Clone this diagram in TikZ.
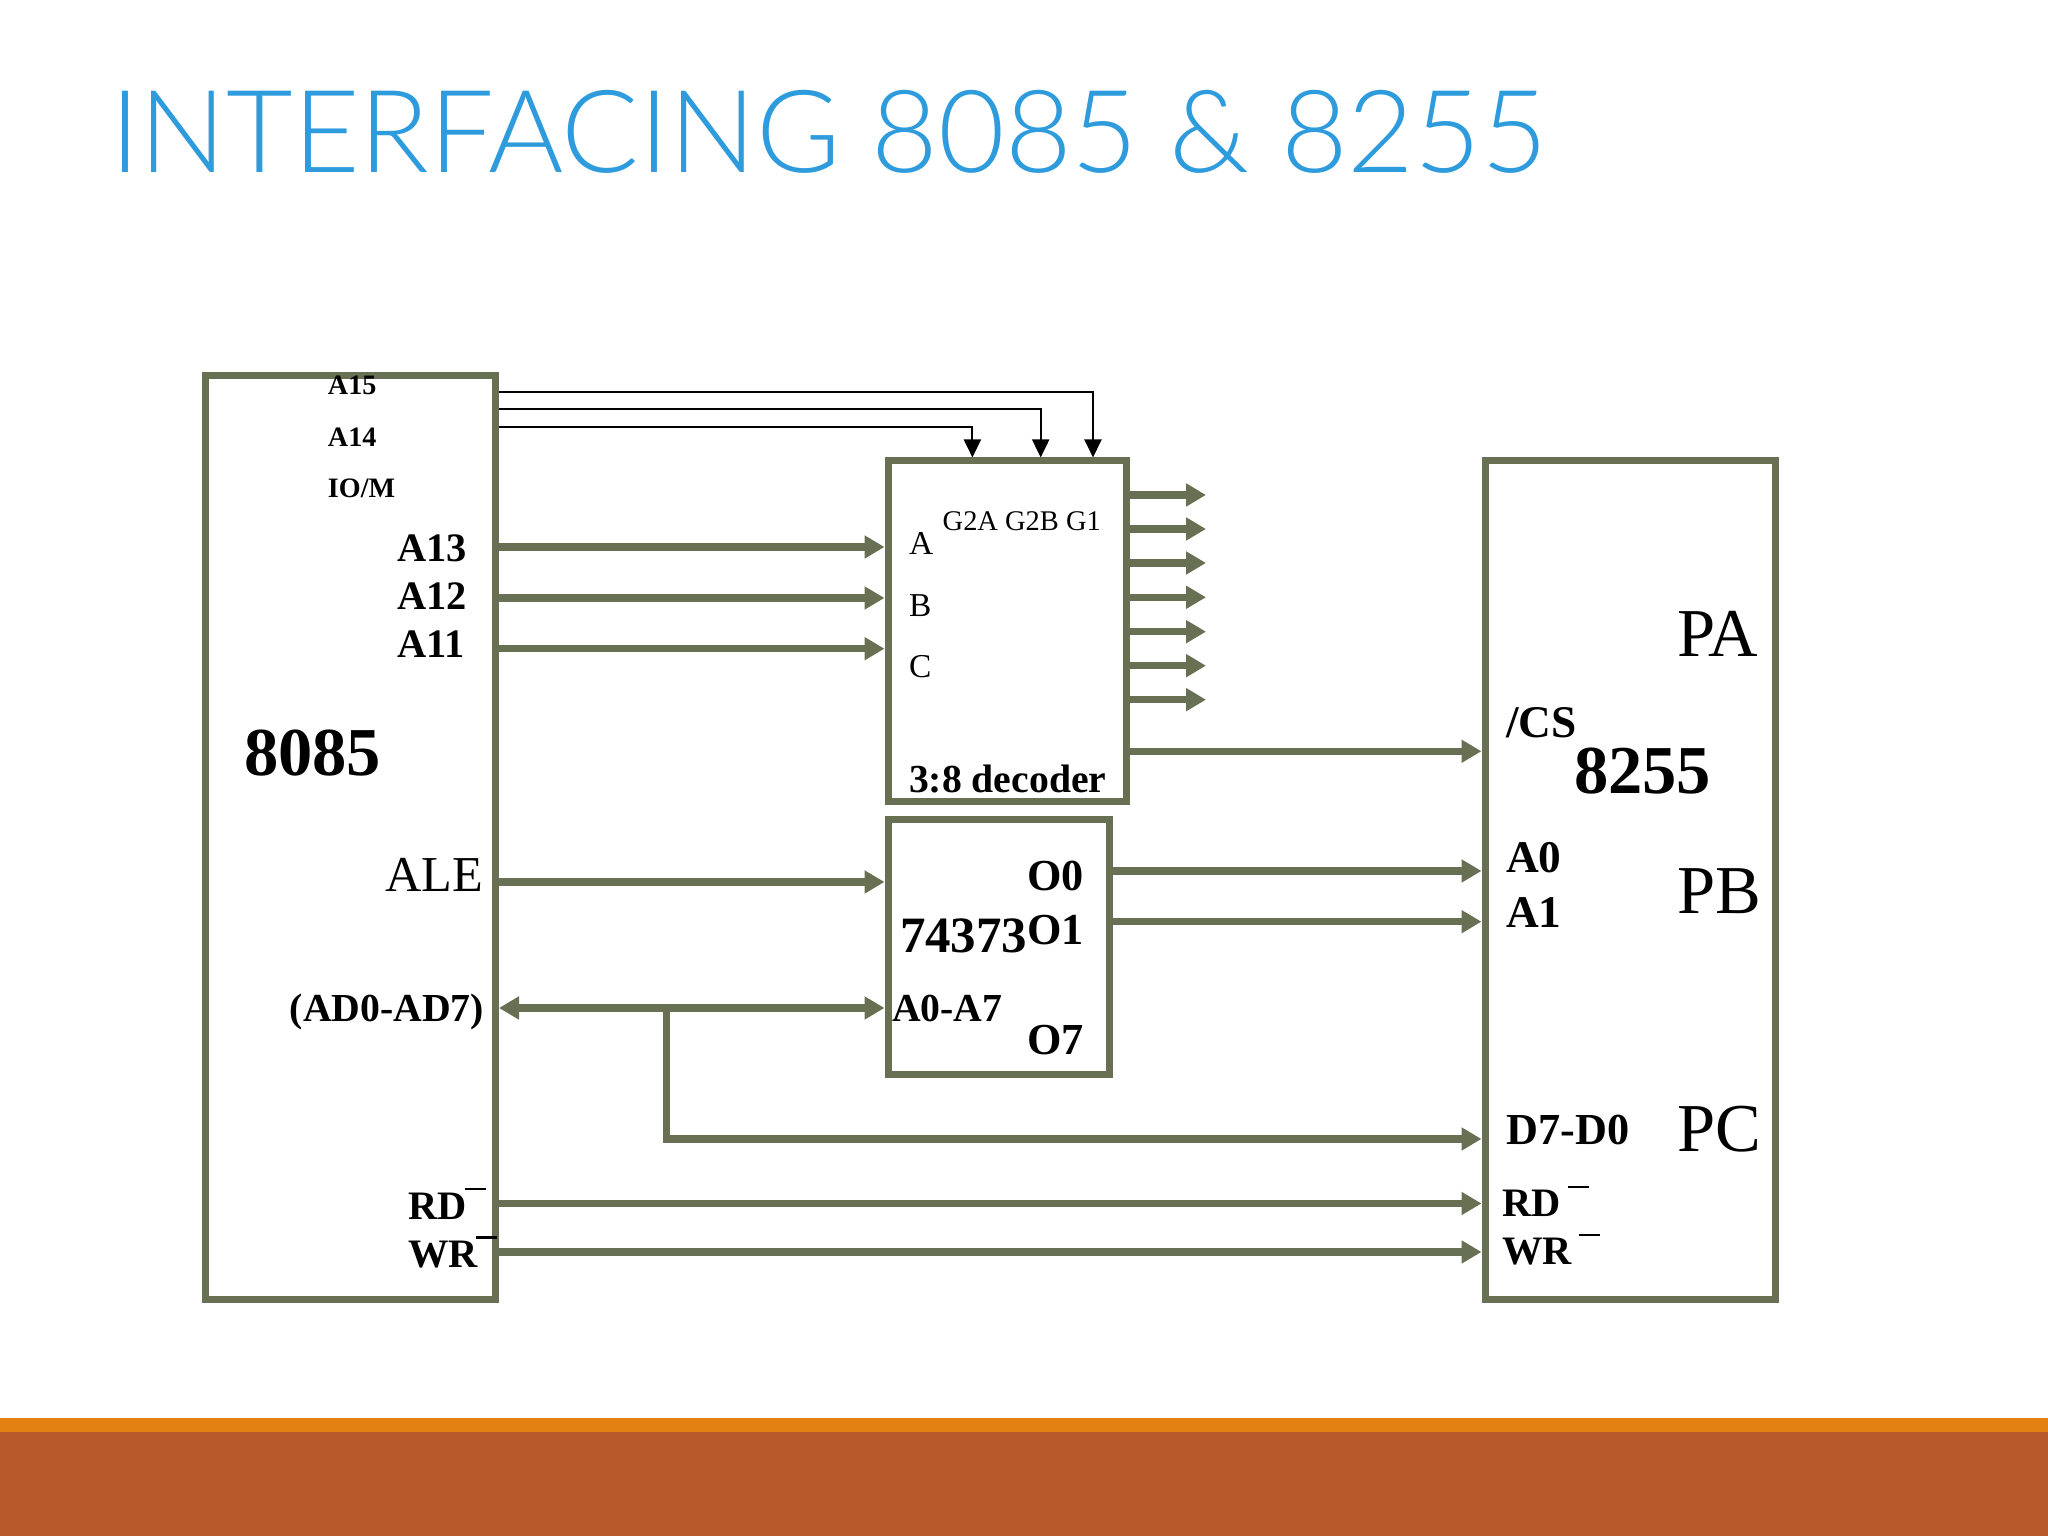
\documentclass[tikz,border=0pt]{standalone}
\usepackage{fontspec}
\setmainfont{Liberation Serif}
\newfontfamily\titlefont[UprightFont={* Light}]{Lato}
\usetikzlibrary{arrows.meta}
\definecolor{ChipGreen}{RGB}{103,112,82}
\definecolor{TitleBlue}{RGB}{46,155,221}
\definecolor{BarOrange}{RGB}{227,130,18}
\definecolor{BarBrown}{RGB}{184,89,43}

\begin{document}
\begin{tikzpicture}[
	chip/.style={rectangle, draw=ChipGreen, line width=0.07cm, inner sep=0pt},
	bus/.style={-{Triangle[length=0.2cm, width=0.22cm]}, line width=0.075cm, ChipGreen},
	dbus/.style={{Triangle[length=0.2cm, width=0.22cm]}-{Triangle[length=0.2cm, width=0.22cm]}, line width=0.075cm, ChipGreen},
	ctl/.style={-{Triangle[length=0.18cm, width=0.17cm]}, line width=0.02cm, black},
	txt/.style={anchor=base west, inner sep=0pt, outer sep=0pt},
	txtr/.style={anchor=base east, inner sep=0pt, outer sep=0pt},
	lblsmall/.style={font=\fontsize{8}{10}\selectfont\bfseries},
	lblpin/.style={font=\fontsize{11.5}{14}\selectfont\bfseries},
	lblpinb/.style={font=\fontsize{12.9}{15}\selectfont\bfseries},
	lblbus/.style={font=\fontsize{11.3}{14}\selectfont\bfseries},
	lblport/.style={font=\fontsize{12.6}{15}\selectfont\bfseries},
	lblchip/.style={font=\fontsize{19.5}{23}\selectfont\bfseries},
	lblplain/.style={font=\fontsize{9.5}{12}\selectfont},
	lblreg/.style={font=\fontsize{19.5}{23}\selectfont},
	overbar/.style={rectangle, fill=black, inner sep=0pt, minimum width=0.21cm, minimum height=0.025cm}]

	\useasboundingbox (0,0) rectangle (20.48,15.36);
	\fill[BarBrown] (0,0) rectangle (20.48,1.035);
	\fill[BarOrange] (0,1.035) rectangle (20.48,1.18);

	\node[txt, text=TitleBlue, font=\fontsize{32.7}{38}\selectfont\titlefont] (title) at (1.1,13.63) {INTERFACING 8085 \& 8255};

	\node[chip, minimum width=2.905cm, minimum height=9.24cm] (cpu) at (3.5025,6.98) {};
	\node[chip, minimum width=2.385cm, minimum height=3.41cm] (decoder) at (10.0725,9.045) {};
	\node[chip, minimum width=2.217cm, minimum height=2.555cm] (latch) at (9.9885,5.8875) {};
	\node[chip, minimum width=2.90cm, minimum height=8.39cm] (ppi) at (16.30,6.555) {};

	% pin heights
	\foreach \pname/\y in {a13/9.89, a12/9.38, a11/8.873, cs/7.847, ale/6.54, ad/5.28,
		o0/6.65, o1/6.143, d70/3.97, rd/3.325, wr/2.84}
		\coordinate (\pname) at (0,\y);
	\coordinate (g1) at (10.93,11.437);
	\coordinate (g2b) at (10.407,11.267);
	\coordinate (g2a) at (9.724,11.093);
	\coordinate (tap) at (6.665,5.28);

	\draw[ctl] (cpu.east |- g1) -| (decoder.north -| g1);
	\draw[ctl] (cpu.east |- g2b) -| (decoder.north -| g2b);
	\draw[ctl] (cpu.east |- g2a) -| (decoder.north -| g2a);

	\draw[bus] (cpu.east |- a13) -- (decoder.west |- a13);
	\draw[bus] (cpu.east |- a12) -- (decoder.west |- a12);
	\draw[bus] (cpu.east |- a11) -- (decoder.west |- a11);
	\draw[bus] (decoder.east |- cs) -- (ppi.west |- cs);
	\draw[bus] (cpu.east |- ale) -- (latch.west |- ale);
	\draw[dbus] (cpu.east |- ad) -- (latch.west |- ad);
	\draw[bus] (tap) |- (ppi.west |- d70);
	\draw[bus] (latch.east |- o0) -- (ppi.west |- o0);
	\draw[bus] (latch.east |- o1) -- (ppi.west |- o1);
	\draw[bus] (cpu.east |- rd) -- (ppi.west |- rd);
	\draw[bus] (cpu.east |- wr) -- (ppi.west |- wr);

	\foreach \i/\y in {1/10.41, 2/10.07, 3/9.73, 4/9.387, 5/9.043, 6/8.703, 7/8.363} {
		\coordinate (out\i) at (12.06,\y);
		\draw[bus] (decoder.east |- out\i) -- (out\i);
	}

	% 8085
	\node[txt, lblsmall] (la15) at (3.28,11.41) {A15};
	\node[txt, lblsmall] (la14) at (3.28,10.89) {A14};
	\node[txt, lblsmall] (liom) at (3.28,10.38) {IO/M};
	\node[txt, lblpin] (la13) at (3.97,9.74) {A13};
	\node[txt, lblpin] (la12) at (3.97,9.26) {A12};
	\node[txt, lblpin] (la11) at (3.97,8.78) {A11};
	\node[txt, lblchip] (lcpu) at (2.44,7.60) {8085};
	\node[txtr, font=\fontsize{14.3}{17}\selectfont] (lale) at (4.83,6.443) {ALE};
	\node[txtr, lblbus] (lad) at (4.84,5.143) {(AD0-AD7)};
	\node[txt, lblpin] (lrd) at (4.085,3.16) {RD};
	\node[txt, lblpin] (lwr) at (4.085,2.683) {WR};
	\node[overbar] (brd) at (4.75,3.47) {};
	\node[overbar] (bwr) at (4.86,2.983) {};

	% decoder
	\node[txt, font=\fontsize{8.1}{10}\selectfont] (lg) at (9.427,10.053) {G2A G2B G1};
	\node[txt, lblplain] (la) at (9.09,9.81) {A};
	\node[txt, lblplain] (lb) at (9.09,9.193) {B};
	\node[txt, lblplain] (lc) at (9.09,8.58) {C};
	\node[txt, lblbus] (ldec) at (9.09,7.433) {3:8 decoder};

	% latch
	\node[txtr, lblport] (lo0) at (10.84,6.453) {O0};
	\node[txtr, lblport] (lo1) at (10.84,5.91) {O1};
	\node[txtr, lblport] (lo7) at (10.84,4.81) {O7};
	\node[txt, font=\fontsize{14.5}{17}\selectfont\bfseries] (llatch) at (9.00,5.833) {74373};
	\node[txt, lblbus] (la07) at (8.92,5.143) {A0-A7};

	% 8255
	\node[txt, lblreg] (lpa) at (16.77,8.79) {PA};
	\node[txt, lblreg] (lpb) at (16.77,6.22) {PB};
	\node[txt, lblreg] (lpc) at (16.77,3.843) {PC};
	\node[txt, lblpinb] (lcs) at (15.06,7.98) {/CS};
	\node[txt, lblchip] (lppi) at (15.74,7.42) {8255};
	\node[txt, lblpinb] (la0) at (15.06,6.63) {A0};
	\node[txt, lblpinb] (la1) at (15.06,6.08) {A1};
	\node[txt, lblport] (ld70) at (15.067,3.91) {D7-D0};
	\node[txt, lblpin] (lrd2) at (15.02,3.193) {RD};
	\node[txt, lblpin] (lwr2) at (15.02,2.71) {WR};
	\node[overbar] (brd2) at (15.785,3.49) {};
	\node[overbar] (bwr2) at (15.895,3.01) {};
\end{tikzpicture}
\end{document}
